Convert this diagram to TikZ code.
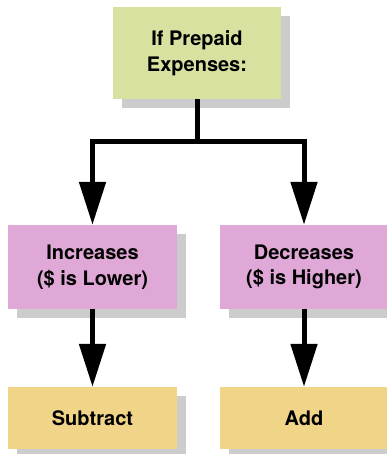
\documentclass[tikz,border=0pt]{standalone}
\usepackage{fontspec}
\setmainfont{TeX Gyre Heros}
\usetikzlibrary{arrows.meta, positioning, shadows}
\definecolor{ifgreen}{RGB}{217,225,160}
\definecolor{chgpink}{RGB}{224,168,214}
\definecolor{actyellow}{RGB}{240,212,136}

\begin{document}
\begin{tikzpicture}[
  x=1pt, y=-1pt,
  every node/.style={font=\bfseries\fontsize{20}{25.5}\selectfont},
  box/.style={minimum width=169pt, inner sep=0pt, align=center,
              drop shadow={shadow xshift=9pt, shadow yshift=-9pt,
                           fill=black!20, opacity=1}},
  arr/.style={-{Triangle[length=43pt, width=26pt]}, line width=5pt},
]
  \useasboundingbox (0,0) rectangle (386,454);

  \node[box, fill=ifgreen, minimum width=168pt, minimum height=92pt] (prepaid)
       at (197, 53) {If Prepaid\\Expenses:};

  \node[box, fill=chgpink, minimum height=84pt] (incr) at (92.5, 267)
       {Increases\\(\$ is Lower)};
  \node[box, fill=chgpink, minimum height=84pt] (decr) at (304, 267)
       {Decreases\\(\$ is Higher)};

  \node[box, fill=actyellow, minimum height=62pt] (subt) at (92.5, 418) {Subtract};
  \node[box, fill=actyellow, minimum height=62pt] (addn) at (304, 418) {Add};

  \coordinate (split) at (197, 142);
  \draw[arr] (prepaid.south) -- (split) -| (incr.north);
  \draw[arr] (split) -| (decr.north);

  \draw[arr] (incr.south) -- (subt.north);
  \draw[arr] (decr.south) -- (addn.north);
\end{tikzpicture}
\end{document}
